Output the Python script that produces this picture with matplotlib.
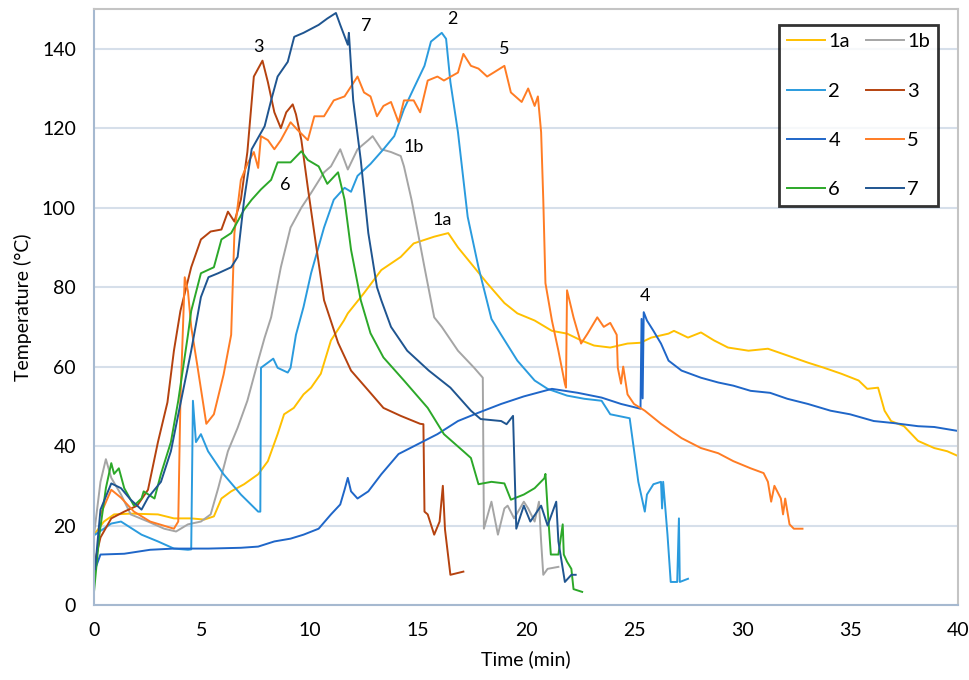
import matplotlib
matplotlib.use('Agg')
import matplotlib.pyplot as plt

# temperature vs time readings for the fire tests
t_1a = [0.0, 0.46, 0.93, 1.7, 2.96, 3.7, 4.5, 5.1, 5.55, 5.9, 6.35, 6.95, 7.6, 8.05, 8.5, 8.8, 9.25,
        9.7, 10.05, 10.5, 10.97, 11.57, 11.75, 12.5, 13.3, 14.2, 14.8, 15.75, 16.4, 16.85, 17.45,
        18.2, 19.0, 19.6, 20.4, 21.2, 21.9, 22.55, 23.15, 23.9, 24.7, 25.3, 25.8, 26.6, 26.85,
        27.5, 28.1, 28.7, 29.35, 30.3, 31.2, 32.1, 33.05, 33.8, 34.6, 35.4, 35.8, 36.3, 36.6,
        36.9, 37.5, 38.15, 38.9, 39.5, 40.0]
T_1a = [17.7, 21, 22.8, 23, 22.8, 21.8, 21.8, 21.5, 22.3, 26.8, 28.6, 30.4, 32.9, 36.2, 43, 48, 49.6,
        53, 54.7, 58.2, 66.6, 71.6, 73.4, 78.5, 84.3, 87.6, 91, 92.7, 93.6, 90, 86,
        81, 76, 73.4, 71.6, 69, 68.3, 66.6, 65.3, 64.8, 65.8, 66, 67.3, 68.3, 69,
        67.3, 68.6, 66.6, 64.8, 64, 64.5, 62.8, 61, 59.7, 58.2, 56.5, 54.4, 54.7, 48.9,
        46.3, 45, 41.3, 39.5, 38.7, 37.5]

t_1b = [0.0, 0.3, 0.55, 0.8, 1.25, 1.7, 2.5, 3.25, 3.8, 4.35, 4.95, 5.4, 5.75, 6.2, 6.65, 7.1, 7.6,
        7.9, 8.2, 8.65, 9.1, 9.6, 10.05, 10.65, 10.97, 11.4, 11.75, 12.2, 12.7, 12.9, 13.3, 13.75,
        14.2, 14.35, 14.7, 15.0, 15.3, 15.75, 16.1, 16.85, 17.6, 18.0, 18.05, 18.4, 18.7, 19.0,
        19.15, 19.45, 19.9, 20.1, 20.4, 20.6, 20.7, 20.8, 21.0, 21.5]
T_1b = [17.7, 31, 36.7, 32, 27.8, 22.8, 21, 19.2, 18.5, 20.3, 21, 22.8, 29.4, 38.7, 44.6, 51.4, 61.5,
        67.3, 72.4, 85, 95, 100, 103.7, 108.9, 110.4, 114.7, 109.6, 114.7, 117, 118, 114.7, 114,
        113, 110.4, 102, 93.6, 85, 72.4, 70, 64, 59.7, 57.2, 19.2, 26, 17.7, 24.3,
        25, 21.8, 26, 24.3, 21, 26, 16, 7.6, 9.1, 9.6]

t_2 = [0.05, 0.8, 1.25, 2.2, 2.96, 3.7, 4.35, 4.5, 4.58, 4.72, 4.95, 5.28, 6.0, 6.8, 7.6, 7.7, 7.73,
       8.3, 8.5, 8.97, 9.1, 9.35, 9.7, 10.05, 10.65, 11.1, 11.6, 11.9, 12.2, 12.8, 13.4, 13.9, 14.35,
       14.8, 15.3, 15.6, 16.1, 16.3, 16.5, 16.85, 17.3, 17.8, 18.4, 18.85, 19.6, 20.4, 21.0, 21.9,
       22.7, 23.5, 23.9, 24.8, 24.9, 25.2, 25.5, 25.6, 25.9, 26.25, 26.3, 26.35, 26.55, 26.7, 27.0,
       27.08, 27.12, 27.5]
T_2 = [17.7, 20.5, 21, 17.7, 16, 14.2, 13.9, 14, 51.4, 41, 43, 38.7, 32.9, 27.8, 23.5, 23.5, 59.7,
       62, 59.7, 58.5, 59.7, 68, 75, 83.5, 95, 102, 105, 104, 108, 111, 114.7, 118, 124.8,
       130, 135.7, 141.8, 144, 142.5, 131.6, 119, 97.7, 85, 72, 68, 61.5, 56.5, 54.4, 52.7,
       51.9, 51.4, 48, 47, 43, 31, 23.5, 27.8, 30.4, 31, 24.3, 31, 17.7, 5.8, 5.8,
       21.8, 5.8, 6.6]

t_3 = [0.0, 0.3, 0.8, 1.4, 2.0, 2.5, 2.96, 3.4, 3.7, 4.0, 4.5, 4.95, 5.4, 5.9, 6.2, 6.5, 6.8, 7.1,
       7.4, 7.8, 8.05, 8.35, 8.65, 8.9, 9.2, 9.35, 9.6, 9.9, 10.2, 10.65, 11.3, 11.9, 12.7, 13.4,
       14.2, 15.1, 15.25, 15.3, 15.45, 15.75, 16.0, 16.15, 16.25, 16.5, 17.1]
T_3 = [10, 17, 21.8, 23.5, 25, 29, 41, 51, 64, 74, 85, 92, 94, 94.5, 99, 96.5, 102, 114,
       133, 137, 131.6, 124, 120, 124, 126, 123.5, 117, 105, 93.6, 76.7, 66, 59, 54, 49.6,
       47.6, 45.6, 45.5, 23.5, 22.8, 17.7, 21, 30, 19, 7.6, 8.4]

t_4 = [0.05, 0.3, 1.4, 2.6, 3.7, 5.3, 6.8, 7.6, 8.35, 9.1, 9.7, 10.4, 10.97, 11.4, 11.6, 11.75, 11.9,
       12.2, 12.7, 13.3, 14.1, 15.0, 15.9, 16.85, 17.8, 18.85, 19.9, 21.2, 22.4, 23.5, 24.4, 25.3,
       25.35, 25.4, 25.45, 25.6, 25.9, 26.25, 26.6, 27.2, 28.1, 28.9, 29.6, 30.4, 31.3, 32.1, 33.05,
       34.1, 35.0, 36.1, 37.0, 38.15, 38.9, 40.0]
T_4 = [9, 12.7, 12.9, 13.9, 14.2, 14.2, 14.4, 14.7, 16, 16.7, 17.7, 19.2, 22.8, 25.3, 29, 32, 28.6,
       26.8, 28.6, 32.9, 38, 40.5, 43, 46.3, 48.4, 50.6, 52.5, 54.4, 53.4, 52.2, 50.6, 49.4,
       72, 52, 73.7, 71.6, 69, 65.8, 61.5, 59, 57.2, 56, 55.2, 53.9, 53.4, 51.9, 50.6,
       48.9, 48, 46.3, 45.8, 45, 44.8, 43.8]

t_5 = [0.3, 0.8, 1.25, 1.85, 2.6, 3.7, 3.9, 4.0, 4.2, 4.35, 4.5, 4.8, 5.2, 5.55, 6.0, 6.35, 6.5, 6.8,
       7.1, 7.4, 7.6, 7.73, 8.05, 8.35, 8.65, 9.1, 9.4, 9.9, 10.2, 10.65, 11.1, 11.6, 12.2, 12.5,
       12.8, 13.1, 13.4, 13.75, 14.1, 14.35, 14.8, 15.1, 15.45, 15.9, 16.2, 16.85, 17.1, 17.45,
       17.8, 18.2, 18.5, 19.0, 19.3, 19.8, 20.1, 20.4, 20.55, 20.7, 20.8, 20.9, 21.2, 21.5, 21.8,
       21.85, 21.9, 22.2, 22.55, 22.85, 23.3, 23.6, 23.9, 24.2, 24.25, 24.4, 24.5, 24.7, 25.0,
       25.5, 26.25, 27.2, 28.1, 28.9, 29.6, 30.4, 31.0, 31.2, 31.35, 31.5, 31.8, 31.9, 32.0,
       32.2, 32.4, 32.8]
T_5 = [22.8, 29, 27, 23.5, 21, 19.2, 21, 51.4, 82.5, 79, 70, 59.7, 45.6, 48, 58, 68, 93.6, 107,
       111, 114, 110, 118, 117, 114.7, 117, 121.5, 119.7, 117, 123, 123, 127, 128, 133, 129,
       128, 123, 125.6, 126.6, 121.5, 127, 127, 124, 132, 133, 132, 134, 138.7, 135.7,
       135, 133, 134, 135.7, 129, 126.6, 130, 125.6, 128, 119, 102, 81, 71.6, 64, 55.7,
       54.7, 79.2, 72.4, 65.8, 68.3, 72.4, 70, 71, 68, 59.7, 55.7, 60, 53, 50.6,
       48.9, 45.6, 42, 39.5, 38.2, 36.2, 34.4, 33.2, 31, 26, 30, 26.8, 22.8, 26.8,
       20.3, 19.2, 19.2]

t_6 = [0.0, 0.25, 0.55, 0.8, 0.93, 1.15, 1.4, 1.85, 2.2, 2.3, 2.8, 3.1, 3.56, 3.9, 4.35, 4.5, 4.95,
       5.55, 5.9, 6.35, 6.95, 7.3, 7.73, 8.2, 8.5, 9.1, 9.6, 9.9, 10.4, 10.8, 11.3, 11.6, 11.9,
       12.2, 12.35, 12.8, 13.4, 14.35, 15.45, 16.2, 17.1, 17.45, 17.8, 18.4, 19.0, 19.3, 19.9,
       20.4, 20.85, 20.9, 21.0, 21.15, 21.5, 21.7, 21.75, 21.9, 22.1, 22.2, 22.6]
T_6 = [3.3, 17.7, 29.4, 35.7, 33, 34.4, 29.4, 25, 26.8, 28.6, 26.8, 33, 41, 51.4, 68, 74, 83.5,
       85, 92, 93.6, 99.5, 102, 104.6, 107, 111.4, 111.4, 114.2, 112, 110.4, 106, 108.9, 102, 89.4,
       81, 76.7, 68.4, 62.3, 56.5, 49.6, 43, 38.7, 37, 30.4, 31, 30.6, 26.5, 27.8,
       29.4, 31.9, 33, 24.3, 12.7, 12.7, 20.3, 12.7, 10.9, 9.1, 4, 3.3]

t_7 = [0.05, 0.3, 0.8, 1.25, 1.7, 2.2, 2.5, 3.1, 3.56, 4.0, 4.5, 4.95, 5.3, 5.75, 6.35, 6.65, 6.95,
       7.3, 7.9, 8.2, 8.5, 8.97, 9.27, 9.7, 10.4, 10.8, 11.2, 11.4, 11.75, 11.8, 12.0, 12.35, 12.7,
       13.1, 13.3, 13.75, 14.5, 15.5, 16.5, 17.45, 17.9, 18.85, 19.1, 19.4, 19.55, 19.9, 20.2,
       20.7, 21.0, 21.4, 21.5, 21.8, 22.1, 22.3]
T_7 = [9, 24, 30.6, 29.4, 26.5, 24, 27, 31, 38.7, 50.6, 64, 77.5, 82.5, 83.5, 85, 87.6, 102,
       114.7, 120.5, 127, 133, 136.7, 143, 144, 146, 147.6, 149, 146, 141, 144, 127, 112, 93.6,
       80, 76.7, 70, 64, 59, 54.7, 48.9, 46.8, 46.3, 45.5, 47.6, 19.2, 25, 21,
       25, 20, 26, 16, 5.8, 7.6, 7.6]

names = ['1a', '1b', '2', '3', '4', '5', '6', '7']
times = [t_1a, t_1b, t_2, t_3, t_4, t_5, t_6, t_7]
temps = [T_1a, T_1b, T_2, T_3, T_4, T_5, T_6, T_7]
colors = ['#FFC000', '#A5A5A5', '#2A9BDE', '#B5420F', '#1F66C8', '#FF7C24', '#2CA829', '#1F5590']

plt.rcParams['font.family'] = ['Lato', 'DejaVu Sans']

fig = plt.figure(figsize=(9.69, 6.8), dpi=100)
ax = fig.add_axes([94/969, 75/680, 864/969, 596/680])

lines = {}
for n, t, T, c in zip(names, times, temps, colors):
    lines[n], = ax.plot(t, T, color=c, lw=1.4, label=n)

ax.set_xlim(0, 40)
ax.set_ylim(0, 150)
ax.set_xticks(range(0, 41, 5))
ax.set_yticks(range(0, 141, 20))
ax.tick_params(length=0, labelsize=14)
ax.tick_params(axis='y', pad=13)
ax.tick_params(axis='x', pad=12)
ax.grid(axis='y', color='#D6DFEA', lw=1.5)
ax.set_axisbelow(True)
for s in ['top', 'right']:
    ax.spines[s].set_color('#C4C4C4')
    ax.spines[s].set_linewidth(1.5)
for s in ['left', 'bottom']:
    ax.spines[s].set_color('#A6B9D0')
    ax.spines[s].set_linewidth(1.5)

ax.set_xlabel('Time (min)', fontsize=14, labelpad=8)
ax.set_ylabel('Temperature (°C)', fontsize=14, labelpad=7)

# curve labels
ax.text(7.6, 140.5, '3', fontsize=13, ha='center', va='center')
ax.text(12.6, 145.8, '7', fontsize=13, ha='center', va='center')
ax.text(16.6, 147.6, '2', fontsize=13, ha='center', va='center')
ax.text(19.0, 140.0, '5', fontsize=13, ha='center', va='center')
ax.text(14.8, 115.2, '1b', fontsize=13, ha='center', va='center')
ax.text(8.85, 105.8, '6', fontsize=13, ha='center', va='center')
ax.text(16.1, 97.0, '1a', fontsize=13, ha='center', va='center')
ax.text(25.5, 77.7, '4', fontsize=13, ha='center', va='center')

# legend filled row by row like the original
order = ['1a', '2', '4', '6', '1b', '3', '5', '7']
leg = ax.legend([lines[n] for n in order], order, ncol=2, loc='upper right',
                bbox_to_anchor=(0.977, 0.973), fontsize=14.5, frameon=True, fancybox=False,
                labelspacing=1.6, handlelength=1.9, handletextpad=0.15, columnspacing=0.8,
                borderpad=0.4, borderaxespad=0)
leg.get_frame().set_edgecolor('black')
leg.get_frame().set_linewidth(2)

fig.savefig('out.png', dpi=100)
